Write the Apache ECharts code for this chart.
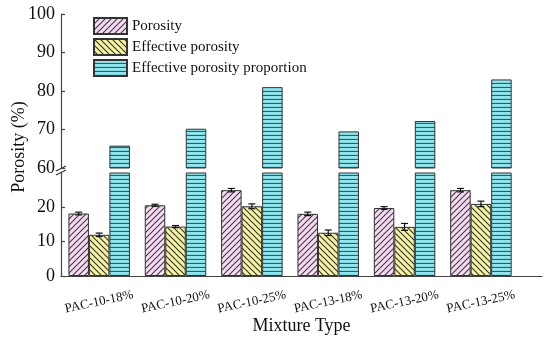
<!DOCTYPE html>
<html>
<head>
<meta charset="utf-8">
<script src="https://cdn.jsdelivr.net/npm/echarts@6/dist/echarts.min.js"></script>
<style>html,body{margin:0;padding:0;background:#fff}#c{width:550px;height:341px}</style>
</head>
<body>
<div id="c"></div>
<script>
const categories = ['PAC-10-18%','PAC-10-20%','PAC-10-25%','PAC-13-18%','PAC-13-20%','PAC-13-25%'];
const porosity = [18.2, 20.6, 25.0, 18.1, 19.8, 25.0];
const porosityErr = [0.4, 0.3, 0.5, 0.5, 0.4, 0.5];
const effPorosity = [12.0, 14.4, 20.3, 12.6, 14.3, 21.0];
const effErr = [0.5, 0.3, 0.7, 0.8, 1.0, 0.8];
const proportion = [65.8, 70.2, 81.0, 69.5, 72.2, 83.0];
const lowerTicks = [0, 10, 20];
const upperTicks = [60, 70, 80, 90, 100];

const FONT = 'Liberation Serif';
const BW = 20.5;

function pattern(bg, fg, kind) {
  const s = 6;
  const c = document.createElement('canvas');
  if (kind === 'h') { c.width = 8; c.height = 4; } else { c.width = s; c.height = s; }
  const g = c.getContext('2d');
  g.fillStyle = bg; g.fillRect(0, 0, c.width, c.height);
  g.strokeStyle = fg; g.lineWidth = 1.2;
  g.beginPath();
  if (kind === 'f') {
    g.moveTo(-1, s + 1); g.lineTo(s + 1, -1);
    g.moveTo(-1, 1); g.lineTo(1, -1);
    g.moveTo(s - 1, s + 1); g.lineTo(s + 1, s - 1);
  } else if (kind === 'b') {
    g.moveTo(-1, -1); g.lineTo(s + 1, s + 1);
    g.moveTo(s - 1, -1); g.lineTo(s + 1, 1);
    g.moveTo(-1, s - 1); g.lineTo(1, s + 1);
  } else {
    g.moveTo(0, 3.5); g.lineTo(8, 3.5);
  }
  g.stroke();
  return { image: c, repeat: 'repeat' };
}

const pPor = pattern('#f6dcf2', '#4a3c4c', 'f');
const pEff = pattern('#f7f3a4', '#3a3a2a', 'b');
const pPro = pattern('#8fe6ee', '#2d5d66', 'h');

const pair = arr => arr.map((v, i) => [i + 1, v]);
const nulls = categories.map((c, i) => [i + 1, '-']);

const gridL = 61, gridR = 8;
const upTop = 14, upH = 154, loTop = 173, loH = 103;

function xAxisCfg(idx, showLabels) {
  return {
    type: 'value', gridIndex: idx, min: 0.5, max: 6.8,
    splitLine: { show: false },
    axisTick: { show: false },
    axisLine: { show: showLabels, onZero: false, lineStyle: { color: '#444', width: 1.2 } },
    axisLabel: showLabels ? {
      customValues: categories.map((c, i) => i + 1),
      formatter: v => categories[Math.round(v) - 1] || '',
      rotate: 12, align: 'center', verticalAlign: 'middle', margin: 26,
      fontFamily: FONT, fontSize: 13, color: '#111'
    } : { show: false },
    name: showLabels ? 'Mixture Type' : '',
    nameLocation: 'middle', nameGap: 40,
    nameTextStyle: { fontFamily: FONT, fontSize: 18, color: '#111' }
  };
}

function yAxisCfg(idx, min, max, ticks) {
  return {
    type: 'value', gridIndex: idx, min: min, max: max, interval: 10,
    splitLine: { show: false },
    axisLine: { show: true, onZero: false, lineStyle: { color: '#444', width: 1.2 } },
    axisTick: { show: true, inside: true, length: 4, customValues: ticks, lineStyle: { color: '#444', width: 1.2 } },
    axisLabel: { customValues: ticks, fontFamily: FONT, fontSize: 18, color: '#111', margin: 6 }
  };
}

const barBase = (name, data, color, xi) => ({
  name: name, type: 'bar', xAxisIndex: xi, yAxisIndex: xi,
  data: data, barWidth: BW, barGap: '0%', clip: true,
  itemStyle: { color: color, borderColor: '#333', borderWidth: 1 },
  emphasis: { disabled: true }
});

function errSeries(vals, errs, offsetIdx) {
  return {
    type: 'custom', xAxisIndex: 1, yAxisIndex: 1, silent: true, z: 10,
    data: vals.map((v, i) => [i + 1, v, errs[i]]),
    renderItem: (params, api) => {
      const x = api.value(0), v = api.value(1), e = api.value(2);
      const top = api.coord([x, v + e]);
      const bot = api.coord([x, v - e]);
      const cx = top[0] + offsetIdx * BW;
      const cw = 3.5;
      const st = { stroke: '#111', lineWidth: 1.2 };
      return { type: 'group', children: [
        { type: 'line', shape: { x1: cx, y1: top[1], x2: cx, y2: bot[1] }, style: st },
        { type: 'line', shape: { x1: cx - cw, y1: top[1], x2: cx + cw, y2: top[1] }, style: st },
        { type: 'line', shape: { x1: cx - cw, y1: bot[1], x2: cx + cw, y2: bot[1] }, style: st }
      ]};
    }
  };
}

const chart = echarts.init(document.getElementById('c'), null, { renderer: 'canvas' });
const option = {
  animation: false,
  backgroundColor: '#fff',
  grid: [
    { left: gridL, right: gridR, top: upTop, height: upH },
    { left: gridL, right: gridR, top: loTop, height: loH }
  ],
  xAxis: [xAxisCfg(0, false), xAxisCfg(1, true)],
  yAxis: [yAxisCfg(0, 60, 100, upperTicks), yAxisCfg(1, 0, 30, lowerTicks)],
  legend: {
    orient: 'vertical', left: 88, top: 12,
    itemWidth: 33, itemHeight: 16, itemGap: 3,
    icon: 'rect',
    data: ['Porosity', 'Effective porosity', 'Effective porosity proportion'],
    textStyle: { fontFamily: FONT, fontSize: 15, color: '#111' },
    selectedMode: false
  },
  series: [
    barBase('Porosity', nulls, pPor, 0),
    barBase('Effective porosity', nulls, pEff, 0),
    barBase('Effective porosity proportion', pair(proportion), pPro, 0),
    barBase('Porosity', pair(porosity), pPor, 1),
    barBase('Effective porosity', pair(effPorosity), pEff, 1),
    barBase('Effective porosity proportion', pair(proportion), pPro, 1),
    errSeries(porosity, porosityErr, -1),
    errSeries(effPorosity, effErr, 0)
  ],
  graphic: [
    { type: 'text', x: 19, y: 147, rotation: Math.PI / 2,
      style: { text: 'Porosity (%)', font: '18px "Liberation Serif"', fill: '#111', align: 'center', verticalAlign: 'middle' } },
    { type: 'line', shape: { x1: gridL - 5, y1: upTop + upH + 3, x2: gridL + 5, y2: upTop + upH - 2 }, style: { stroke: '#333', lineWidth: 1.2 } },
    { type: 'line', shape: { x1: gridL - 5, y1: loTop + 2, x2: gridL + 5, y2: loTop - 3 }, style: { stroke: '#333', lineWidth: 1.2 } }
  ]
};
chart.setOption(option);
</script>
</body>
</html>
